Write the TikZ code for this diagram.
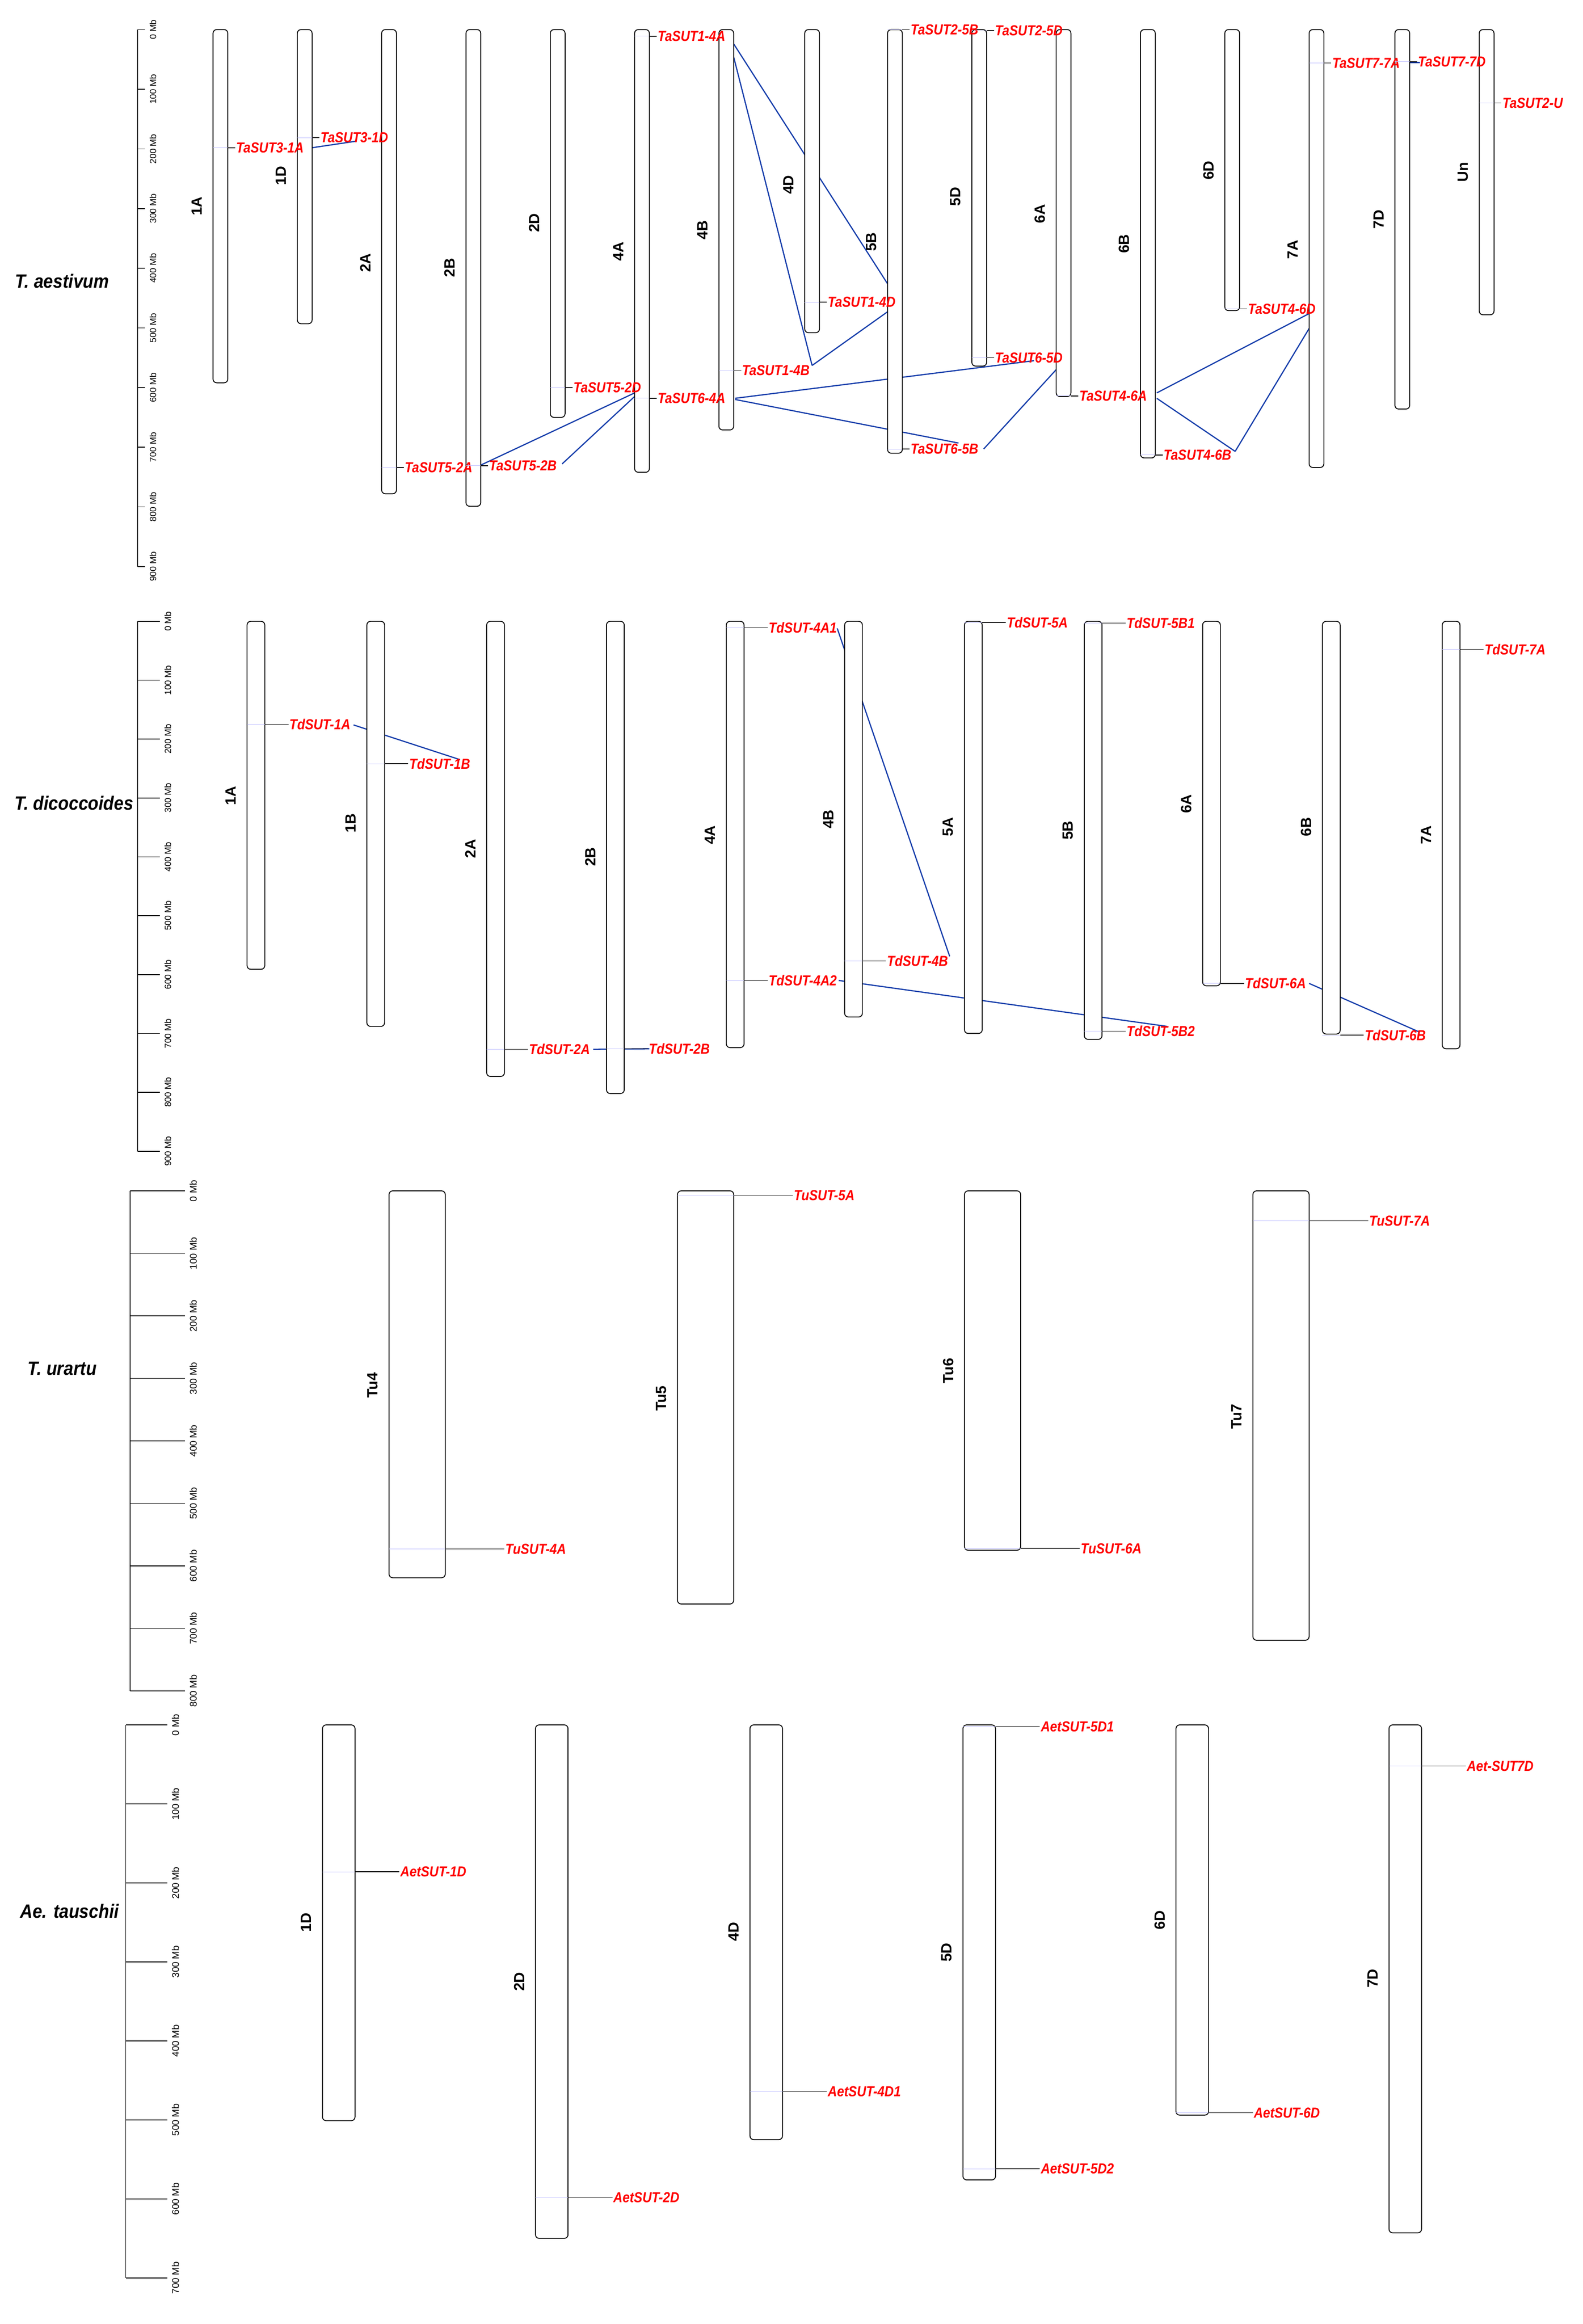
\documentclass[tikz,border=0pt]{standalone}
\usepackage{fontspec}
\setmainfont{Liberation Sans}
\begin{document}
\begin{tikzpicture}[x=1pt,y=1pt,
 chrom/.style={draw=black,line width=0.6pt,fill=white,rounded corners=2.5pt},
 gtick/.style={draw=black,line width=0.5pt},
 inband/.style={draw=blue!25,line width=0.3pt},
 glab/.style={text=red,font=\fontsize{9.8}{10}\selectfont\bfseries\itshape,inner sep=0.5pt,xscale=0.88},
 clab/.style={rotate=90,font=\fontsize{10}{11}\selectfont\bfseries,inner sep=0pt},
 tlab/.style={rotate=90,anchor=north,font=\fontsize{6}{6}\selectfont,inner sep=0pt},
 splab/.style={font=\fontsize{13}{14}\selectfont\bfseries\itshape,xscale=0.9},
 link/.style={draw={rgb,255:red,20;green,60;blue,170},line width=0.8pt}]
\useasboundingbox (0,0) rectangle (1070,-1571);
\fill[white] (0,0) rectangle (1070,-1571);
\newcommand\HW{5}\newcommand\TK{5}
\newcommand\chr[4]{\draw[chrom] (#1-\HW,0) rectangle (#1+\HW,#2);
  \node[clab] at (#1-\HW-11,#3) {#4};}
\newcommand\gene[4]{\draw[inband] (#1-\HW,#2) -- (#1+\HW,#2);
  \draw[gtick] (#1+\HW,#2) -- ++(\TK,0) node[glab,anchor=west] (#3) {#4};}
% ================= Panel 1
\node[splab] (sp1) at (42,-190) {T. aestivum};
\begin{scope}[shift={(0,-20)},yscale=-0.4033]
 \draw[line width=0.6pt] (93,0) -- (93,900);
 \foreach \m in {0,100,...,900}{\draw[line width=0.5pt] (93,\m) -- (98,\m);
   \node[tlab] at (101,\m) {\m\ Mb};}
 \foreach \a/\b in {{211,198}/{241,187},{325,730}/{429,609},{380,728}/{429,615},
   {496,24}/{600,426},{496,46}/{549,563},{549,563}/{600,473},{497,618}/{699,555},
   {497,620}/{648,693},{665,703}/{714,570},{782,609}/{885,476},{782,618}/{835,707},
   {835,707}/{885,501},{953,55}/{960,55}}
   {\draw[link] (\a) -- (\b);}
 \chr{149}{592}{296}{1A}\chr{206}{493}{245}{1D}\chr{263}{778}{391}{2A}
 \chr{320}{799}{399}{2B}\chr{377}{650}{324}{2D}\chr{434}{742}{372}{4A}
 \chr{491}{671}{336}{4B}\chr{549}{508}{260}{4D}\chr{605}{710}{356}{5B}
 \chr{662}{564}{280}{5D}\chr{719}{615}{309}{6A}\chr{776}{718}{359}{6B}
 \chr{833}{471}{236}{6D}\chr{890}{734}{369}{7A}\chr{948}{636}{318}{7D}
 \chr{1005}{478}{239}{Un}
 \gene{149}{198}{g1}{TaSUT3-1A}\gene{206}{181}{g2}{TaSUT3-1D}
 \gene{263}{734}{g3}{TaSUT5-2A}\gene{320}{731}{g4}{TaSUT5-2B}
 \gene{377}{600}{g5}{TaSUT5-2D}\gene{434}{11}{g6}{TaSUT1-4A}
 \gene{434}{618}{g7}{TaSUT6-4A}\gene{491}{571}{g8}{TaSUT1-4B}
 \gene{549}{457}{g9}{TaSUT1-4D}\gene{605}{0}{g10}{TaSUT2-5B}
 \gene{662}{2}{g11}{TaSUT2-5D}\gene{605}{703}{g12}{TaSUT6-5B}
 \gene{662}{550}{g13}{TaSUT6-5D}\gene{719}{614}{g14}{TaSUT4-6A}
 \gene{776}{713}{g15}{TaSUT4-6B}\gene{833}{468}{g16}{TaSUT4-6D}
 \gene{890}{56}{g17}{TaSUT7-7A}\gene{948}{54}{g18}{TaSUT7-7D}
 \gene{1005}{123}{g19}{TaSUT2-U}
\end{scope}
% ================= Panel 2
\renewcommand\HW{6}\renewcommand\TK{16}
\node[splab] (sp2) at (50,-543) {T. dicoccoides};
\begin{scope}[shift={(0,-420)},yscale=-0.398]
 \draw[line width=0.6pt] (93,0) -- (93,900);
 \foreach \m in {0,100,...,900}{\draw[line width=0.5pt] (93,\m) -- (108,\m);
   \node[tlab] at (111,\m) {\m\ Mb};}
 \foreach \a/\b in {{239,176}/{311,235},{401,727}/{439,726},{566,12}/{642,569},
   {567,610}/{789,688},{885,615}/{959,697}}
   {\draw[link] (\a) -- (\b);}
 \chr{173}{591}{296}{1A}\chr{254}{688}{343}{1B}\chr{335}{773}{386}{2A}
 \chr{416}{802}{400}{2B}\chr{497}{724}{363}{4A}\chr{577}{672}{336}{4B}
 \chr{658}{700}{349}{5A}\chr{739}{710}{355}{5B}\chr{819}{619}{310}{6A}
 \chr{900}{701}{349}{6B}\chr{981}{726}{363}{7A}
 \gene{173}{175}{d1}{TdSUT-1A}\gene{254}{242}{d2}{TdSUT-1B}
 \gene{335}{727}{d3}{TdSUT-2A}\gene{416}{726}{d4}{TdSUT-2B}
 \gene{497}{11}{d5}{TdSUT-4A1}\gene{497}{610}{d6}{TdSUT-4A2}
 \gene{577}{577}{d7}{TdSUT-4B}\gene{658}{2}{d8}{TdSUT-5A}
 \gene{739}{3}{d9}{TdSUT-5B1}\gene{739}{696}{d10}{TdSUT-5B2}
 \gene{819}{615}{d11}{TdSUT-6A}\gene{900}{703}{d12}{TdSUT-6B}
 \gene{981}{48}{d13}{TdSUT-7A}
\end{scope}
% ================= Panel 3
\renewcommand\HW{19}\renewcommand\TK{40}
\node[splab] (sp3) at (42,-925) {T. urartu};
\begin{scope}[shift={(0,-805)},yscale=-0.4225,tlab/.append style={font=\fontsize{6.5}{7}\selectfont}]
 \draw[line width=0.6pt] (88,0) -- (88,800);
 \foreach \m in {0,100,...,800}{\draw[line width=0.5pt] (88,\m) -- (125,\m);
   \node[tlab] at (128,\m) {\m\ Mb};}
 \chr{282}{619}{311}{Tu4}\chr{477}{661}{332}{Tu5}
 \chr{671}{575}{288}{Tu6}\chr{866}{719}{361}{Tu7}
 \gene{282}{573}{u1}{TuSUT-4A}\gene{477}{7}{u2}{TuSUT-5A}
 \gene{671}{572}{u3}{TuSUT-6A}\gene{866}{48}{u4}{TuSUT-7A}
\end{scope}
% ================= Panel 4
\renewcommand\HW{11}\renewcommand\TK{30}
\node[splab] (sp4) at (47,-1292) {Ae. tauschii};
\begin{scope}[shift={(0,-1166)},yscale=-0.534,tlab/.append style={font=\fontsize{6.5}{7}\selectfont}]
 \draw[line width=0.6pt] (85,0) -- (85,700);
 \foreach \m in {0,100,...,700}{\draw[line width=0.5pt] (85,\m) -- (113,\m);
   \node[tlab] at (116,\m) {\m\ Mb};}
 \chr{229}{501}{250}{1D}\chr{373}{650}{325}{2D}\chr{518}{525}{262}{4D}
 \chr{662}{576}{288}{5D}\chr{806}{494}{247}{6D}\chr{950}{643}{321}{7D}
 \gene{229}{186}{a1}{AetSUT-1D}\gene{373}{598}{a2}{AetSUT-2D}
 \gene{518}{464}{a3}{AetSUT-4D1}\gene{662}{2}{a4}{AetSUT-5D1}
 \gene{662}{562}{a5}{AetSUT-5D2}\gene{806}{491}{a6}{AetSUT-6D}
 \gene{950}{52}{a7}{Aet-SUT7D}
\end{scope}
\end{tikzpicture}
\end{document}
